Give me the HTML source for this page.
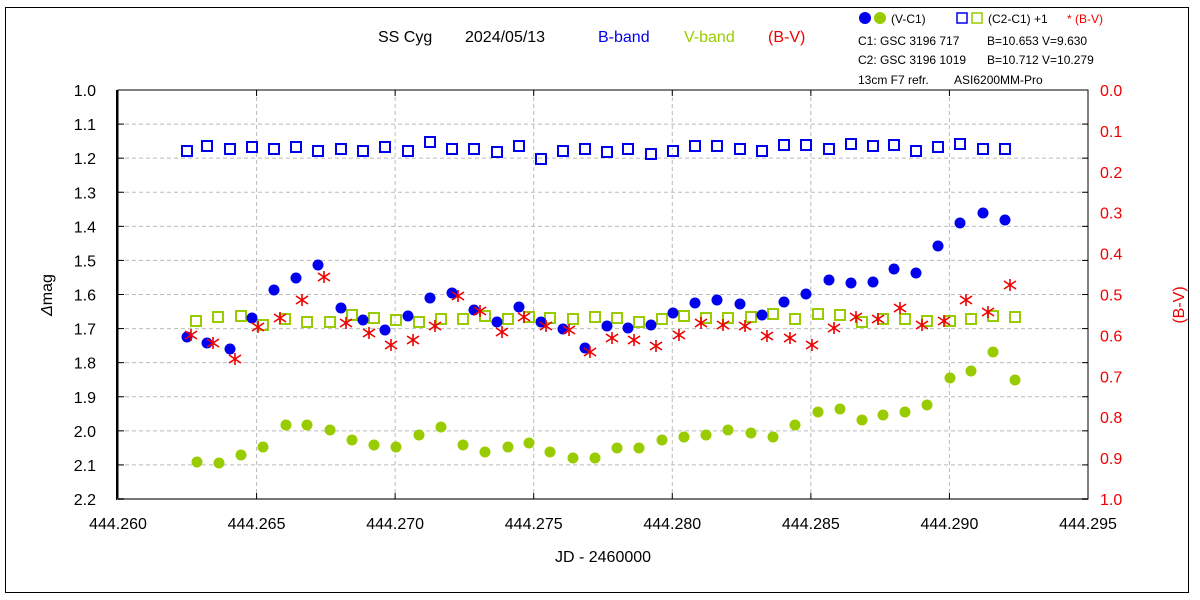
<!DOCTYPE html>
<html><head><meta charset="utf-8"><style>
html,body{margin:0;padding:0;background:#fff;}
svg{display:block;font-family:"Liberation Sans",sans-serif;}
</style></head><body>
<svg id="s" width="1200" height="600" xmlns="http://www.w3.org/2000/svg">
<rect x="0" y="0" width="1200" height="600" fill="#fff"/>
<rect x="5.5" y="7.5" width="1183" height="585" fill="none" stroke="#000" stroke-width="1"/>
<g id="grid" stroke="#bbb" stroke-dasharray="4,3" stroke-width="1"></g>
<rect x="118" y="90" width="970" height="409" fill="none" stroke="#000" stroke-width="1"/>
<line x1="117" y1="90" x2="117" y2="500" stroke="#000" stroke-width="2"/>
<line x1="117" y1="499" x2="1088" y2="499" stroke="#777" stroke-width="2"/>
<g id="ticks" stroke="#000" stroke-width="1"></g>
<g id="lbl" font-size="16" fill="#000"></g>
<g font-size="16">
<text x="378" y="42" fill="#000">SS Cyg</text>
<text x="465" y="42" fill="#000">2024/05/13</text>
<text x="598" y="42" fill="#0000ee">B-band</text>
<text x="684" y="42" fill="#99cc00">V-band</text>
<text x="768" y="42" fill="#ee0000">(B-V)</text>
</g>
<g font-size="12" fill="#000">
<circle cx="865" cy="18" r="6" fill="#0000ee"/><circle cx="880" cy="18" r="6" fill="#99cc00"/>
<text x="891" y="23">(V-C1)</text>
<rect x="957" y="13" width="10" height="10" fill="none" stroke="#0000ee" stroke-width="1.5"/>
<rect x="972" y="13" width="10" height="10" fill="none" stroke="#99cc00" stroke-width="1.5"/>
<text x="988" y="23">(C2-C1) +1</text>
<text x="1067" y="23" fill="#ee0000">* (B-V)</text>
<text x="858" y="45">C1: GSC 3196 717</text><text x="987" y="45">B=10.653 V=9.630</text>
<text x="858" y="64">C2: GSC 3196 1019</text><text x="987" y="64">B=10.712 V=10.279</text>
<text x="858" y="84">13cm F7 refr.</text><text x="954" y="84">ASI6200MM-Pro</text>
</g>
<text x="603" y="562" font-size="16" text-anchor="middle">JD - 2460000</text>
<text transform="translate(52,295) rotate(-90)" font-size="16" text-anchor="middle"><tspan font-style="italic">Δ</tspan>mag</text>
<text transform="translate(1184,305) rotate(-90)" font-size="16" text-anchor="middle" fill="#ee0000">(B-V)</text>
<g id="data"></g>
</svg>
<script>
const NS="http://www.w3.org/2000/svg";
function el(p,t,a,txt){const e=document.createElementNS(NS,t);for(const k in a)e.setAttribute(k,a[k]);if(txt!==undefined)e.textContent=txt;document.getElementById(p).appendChild(e);return e;}
for(let i=0;i<=12;i++){const y=90+i*409/12;
 if(i>0&&i<12)el("grid","line",{x1:118,x2:1088,y1:y,y2:y});
 el("ticks","line",{x1:118,x2:124,y1:y,y2:y});el("ticks","line",{x1:1082,x2:1088,y1:y,y2:y});
 el("lbl","text",{x:96,y:y+6,"text-anchor":"end"},(1+i/10).toFixed(1));
 if(i<=10){const yr=90+i*40.9;el("lbl","text",{x:1100,y:yr+6,fill:"#ee0000"},(i/10).toFixed(1));}
}
for(let i=0;i<=7;i++){const x=118+i*970/7;
 if(i>0&&i<7)el("grid","line",{x1:x,x2:x,y1:90,y2:499});
 el("ticks","line",{x1:x,x2:x,y1:493,y2:499});el("ticks","line",{x1:x,x2:x,y1:90,y2:96});
 el("lbl","text",{x:x,y:529,"text-anchor":"middle"},(444.260+i*0.005).toFixed(3));
}
const bd=[[187,337],[207,343],[230,349],[252,318],[274,290],[296,278],[318,265],[341,308],[363,320],[385,330],[408,316],[430,298],[452,293],[474,310],[497,322],[519,307],[541,322],[563,329],[585,348],[607,326],[628,328],[651,325],[673,313],[695,303],[717,300],[740,304],[762,315],[784,302],[806,294],[829,280],[851,283],[873,282],[894,269],[916,273],[938,246],[960,223],[983,213],[1005,220]];
const gd=[[197,462],[219,463],[241,455],[263,447],[286,425],[307,425],[330,430],[352,440],[374,445],[396,447],[419,435],[441,427],[463,445],[485,452],[508,447],[529,443],[550,452],[573,458],[595,458],[617,448],[639,448],[662,440],[684,437],[706,435],[728,430],[751,433],[773,437],[795,425],[818,412],[840,409],[862,420],[883,415],[905,412],[927,405],[950,378],[971,371],[993,352],[1015,380]];
const bs=[[187,151],[207,146],[230,149],[252,147],[274,149],[296,147],[318,151],[341,149],[363,151],[385,147],[408,151],[430,142],[452,149],[474,149],[497,152],[519,146],[541,159],[563,151],[585,149],[607,152],[628,149],[651,154],[673,151],[695,146],[717,146],[740,149],[762,151],[784,145],[806,145],[829,149],[851,144],[873,146],[894,145],[916,151],[938,147],[960,144],[983,149],[1005,149]];
const gs=[[196,321],[218,317],[241,316],[263,325],[285,319],[307,322],[330,322],[352,315],[374,318],[396,320],[419,322],[441,319],[463,319],[485,316],[508,319],[529,317],[550,318],[573,319],[595,317],[617,318],[639,322],[662,319],[684,316],[706,318],[728,318],[751,317],[773,314],[795,319],[818,314],[840,315],[862,322],[883,319],[905,319],[927,321],[950,321],[971,319],[993,316],[1015,317]];
const rs=[[191,335],[213,343],[235,359],[258,327],[280,318],[302,300],[324,277],[346,323],[369,333],[391,345],[413,340],[435,326],[458,296],[480,311],[502,332],[524,317],[546,326],[569,330],[590,352],[612,338],[634,340],[656,346],[679,335],[701,323],[723,325],[745,326],[767,336],[790,338],[812,345],[834,328],[856,317],[878,319],[900,308],[922,325],[944,321],[966,300],[988,312],[1010,285]];
bs.forEach(p=>el("data","rect",{x:p[0]-5,y:p[1]-5,width:10,height:10,fill:"none",stroke:"#0000ee","stroke-width":2}));
gs.forEach(p=>el("data","rect",{x:p[0]-5,y:p[1]-5,width:10,height:10,fill:"none",stroke:"#99cc00","stroke-width":2}));
gd.forEach(p=>el("data","circle",{cx:p[0],cy:p[1],r:5.5,fill:"#99cc00"}));
bd.forEach(p=>el("data","circle",{cx:p[0],cy:p[1],r:5.5,fill:"#0000ee"}));
rs.forEach(p=>{const[x,y]=p;el("data","path",{d:`M${x} ${y-6}V${y+6}M${x-6} ${y-4}L${x+6} ${y+4}M${x-6} ${y+4}L${x+6} ${y-4}`,stroke:"#ee0000","stroke-width":1.6,fill:"none"});});
</script>
</body></html>
